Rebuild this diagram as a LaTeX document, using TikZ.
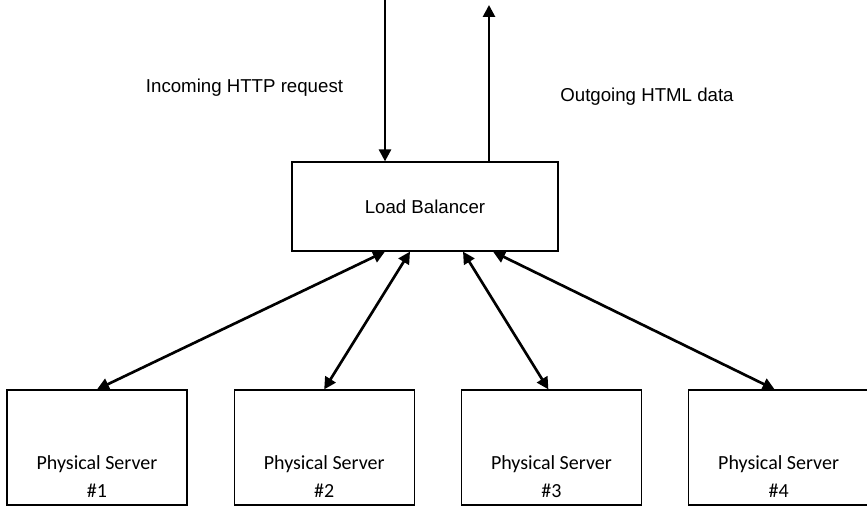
\documentclass[tikz,border=0pt]{standalone}
\usepackage{fontspec}
\setmainfont{Liberation Sans}
\newfontfamily\calibrifont{Carlito}
\usetikzlibrary{arrows.meta, positioning}
\tikzset{
  lbbox/.style={draw=black, line width=0.9pt, minimum width=199.5pt,
                minimum height=66.75pt, inner sep=0pt,
                font=\fontsize{14}{17}\selectfont},
  srvbox/.style={draw=black, line width=0.9pt, minimum width=135pt,
                 minimum height=86.25pt, inner sep=0pt},
  srvlbl/.style={align=center, inner sep=0pt,
                 font=\calibrifont\fontsize{15}{21}\selectfont},
  flowlbl/.style={inner sep=0pt, font=\fontsize{14}{17}\selectfont},
  arr/.style={-{Triangle[length=9pt, width=9pt]}, line width=2pt},
  biarr/.style={{Triangle[length=9pt, width=9pt]}-{Triangle[length=9pt, width=9pt]},
                line width=2pt},
}

\begin{document}
\begin{tikzpicture}[x=0.75pt, y=-0.75pt]

  \useasboundingbox (0,0) rectangle (867,506);

  %% load balancer
  \node[lbbox] (lb) at (425,206.5) {Load Balancer};

  %% request and response
  \coordinate (intop) at (385,0);
  \coordinate (outtop) at (489,5);
  \draw[arr] (intop) -- (intop |- lb.north);
  \draw[arr] (outtop |- lb.north) -- (outtop);

  \node[flowlbl] (inlbl) at (244.5,88) {Incoming HTTP request};
  \node[flowlbl] (outlbl) at (647,97) {Outgoing HTML data};

  %% physical servers
  \node[srvbox] (s1) at (97,447.5) {};
  \node[srvbox, right=34.5pt of s1] (s2) {};
  \node[srvbox, right=34.5pt of s2] (s3) {};
  \node[srvbox, right=34.5pt of s3] (s4) {};

  \foreach \i in {1,...,4}
    \node[srvlbl, yshift=22pt] (t\i) at (s\i.south) {Physical Server\\\#\i};

  %% links to the balancer
  \draw[biarr] ([xshift=-30pt]lb.south) -- (s1.north);
  \draw[biarr] ([xshift=-11.25pt]lb.south) -- (s2.north);
  \draw[biarr] ([xshift=28.5pt]lb.south) -- ([xshift=-2.25pt]s3.north);
  \draw[biarr] ([xshift=51pt]lb.south) -- ([xshift=-3pt]s4.north);

\end{tikzpicture}
\end{document}
